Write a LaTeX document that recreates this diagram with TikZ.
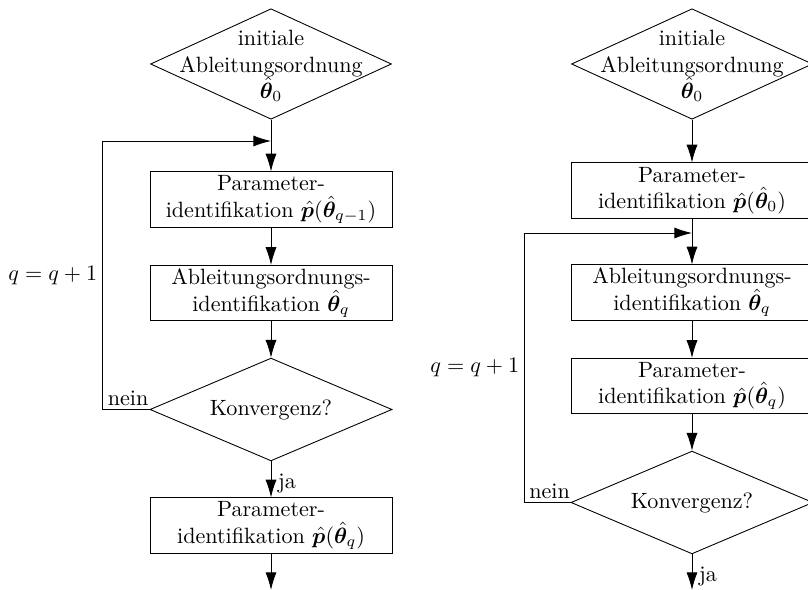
\documentclass[tikz,border=0pt]{standalone}
\usepackage{amsmath}
\usepackage{bm}
\usetikzlibrary{shapes.geometric, arrows.meta}
\tikzset{
    block/.style={draw, rectangle, align=center, minimum width=109.5pt, minimum height=25pt, inner sep=1pt},
    decision/.style={draw, diamond, aspect=2.3, inner sep=0pt, minimum width=109.5pt, minimum height=46.5pt},
    start/.style={draw, diamond, aspect=2.2, inner sep=0pt, minimum width=109pt, minimum height=50pt},
    flow/.style={-{Latex[length=8pt, width=5pt]}},
}

\begin{document}
\begin{tikzpicture}[x=0.4524pt, y=-0.4524pt]
    \clip (0,0) rectangle (808,590);
    % linke Variante
    \node[start] (initA) at (271,64) {};
    \node[align=center] (initAtxt) at (271,66) {initiale\\Ableitungsordnung\\$\hat{\bm\theta}_0$};
    \coordinate (joinA) at (271,141);
    \node[block] (parA) at (271,199.5) {Parameter-\\identifikation $\hat{\bm p}(\hat{\bm\theta}_{q-1})$};
    \node[block] (ablA) at (271,293) {Ableitungsordnungs-\\identifikation $\hat{\bm\theta}_q$};
    \node[decision] (konvA) at (271,409.5) {Konvergenz?};
    \node[block] (parqA) at (271,525.5) {Parameter-\\identifikation $\hat{\bm p}(\hat{\bm\theta}_q)$};
    \coordinate (endA) at (271,590);
    \coordinate (loopA1) at (102,409.5);
    \coordinate (loopA2) at (102,141);

    \draw[flow] (initA.south) -- (parA.north);
    \draw[flow] (parA.south) -- (ablA.north);
    \draw[flow] (ablA.south) -- (konvA.north);
    \draw[flow] (konvA.south) -- node[right, pos=.62, inner sep=3pt] {ja} (parqA.north);
    \draw[flow] (parqA.south) -- (endA);
    \draw[flow] (konvA.west) -- node[above, pos=.45, inner sep=1.5pt] {nein} (loopA1)
        -- node[left, inner sep=2pt] {$q=q+1$} (loopA2) -- (joinA);

    % rechte Variante
    \node[start] (initB) at (692,64) {};
    \node[align=center] (initBtxt) at (692,66) {initiale\\Ableitungsordnung\\$\hat{\bm\theta}_0$};
    \node[block] (parB) at (692,190.5) {Parameter-\\identifikation $\hat{\bm p}(\hat{\bm\theta}_0)$};
    \coordinate (joinB) at (692,233);
    \node[block] (ablB) at (692,292.5) {Ableitungsordnungs-\\identifikation $\hat{\bm\theta}_q$};
    \node[block] (parqB) at (692,386) {Parameter-\\identifikation $\hat{\bm p}(\hat{\bm\theta}_q)$};
    \node[decision] (konvB) at (692,502.5) {Konvergenz?};
    \coordinate (endB) at (692,590);
    \coordinate (loopB1) at (524,502.5);
    \coordinate (loopB2) at (524,233);

    \draw[flow] (initB.south) -- (parB.north);
    \draw[flow] (parB.south) -- (ablB.north);
    \draw[flow] (ablB.south) -- (parqB.north);
    \draw[flow] (parqB.south) -- (konvB.north);
    \draw[flow] (konvB.south) -- node[right, pos=.62, inner sep=3pt] {ja} (endB);
    \draw[flow] (konvB.west) -- node[above, pos=.45, inner sep=1.5pt] {nein} (loopB1)
        -- node[left, inner sep=2pt] {$q=q+1$} (loopB2) -- (joinB);
\end{tikzpicture}
\end{document}
